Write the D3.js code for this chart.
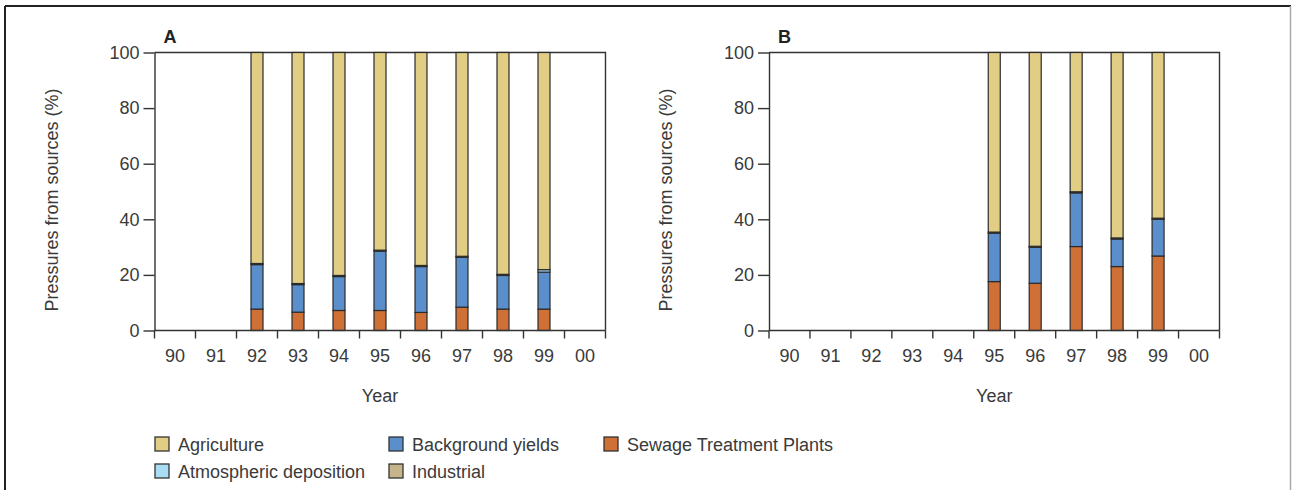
<!DOCTYPE html>
<html>
<head>
<meta charset="utf-8">
<script src="https://cdn.jsdelivr.net/npm/d3@7"></script>
<style>
  html, body { margin: 0; padding: 0; background: #fff; }
  svg { display: block; font-family: "Liberation Sans", Arial, Helvetica, sans-serif; }
  .axis text { fill: #3a3a3a; font-size: 18px; }
  .axis path, .axis line { stroke: #333; stroke-width: 1.4; }
</style>
</head>
<body>
<svg id="chart" width="1292" height="490"></svg>
<script>
// Years shown on both x axes
const years = ["90", "91", "92", "93", "94", "95", "96", "97", "98", "99", "00"];
const yTicks = [0, 20, 40, 60, 80, 100];

// Source categories (stacking order, bottom to top) and their colours
const sources = ["Sewage Treatment Plants", "Background yields", "Atmospheric deposition", "Industrial", "Agriculture"];
const colors = ["#cf7036", "#5b8fcb", "#a9ddf4", "#c6b48b", "#e1cd83"];

// Panel A: share of pressure by source (%), years 92–99
const yearsA = ["92", "93", "94", "95", "96", "97", "98", "99"];
const stpA = [7.7, 6.6, 7.2, 7.2, 6.5, 8.4, 7.7, 7.7];
const backgroundA = [16.0, 9.9, 12.2, 21.3, 16.5, 17.9, 12.1, 13.3];
const atmosphericA = [0, 0, 0, 0, 0, 0, 0, 0.9];
const industrialA = [0.4, 0.4, 0.4, 0.4, 0.4, 0.4, 0.4, 0];
const agricultureA = [75.9, 83.1, 80.2, 71.1, 76.6, 73.3, 79.8, 78.1];

// Panel B: share of pressure by source (%), years 95–99
const yearsB = ["95", "96", "97", "98", "99"];
const stpB = [17.6, 17.0, 30.2, 23.0, 26.8];
const backgroundB = [17.4, 12.9, 19.3, 9.9, 13.2];
const atmosphericB = [0, 0, 0, 0, 0];
const industrialB = [0.4, 0.4, 0.4, 0.4, 0.4];
const agricultureB = [64.6, 69.7, 50.1, 66.7, 59.6];

function rows(ys, stp, bg, atm, ind, agr) {
  return ys.map((yr, i) => ({
    year: yr,
    "Sewage Treatment Plants": stp[i],
    "Background yields": bg[i],
    "Atmospheric deposition": atm[i],
    "Industrial": ind[i],
    "Agriculture": agr[i]
  }));
}

const panels = [
  { label: "A", left: 154.5, right: 605.5, data: rows(yearsA, stpA, backgroundA, atmosphericA, industrialA, agricultureA) },
  { label: "B", left: 769, right: 1219.5, data: rows(yearsB, stpB, backgroundB, atmosphericB, industrialB, agricultureB) }
];
const plotTop = 52.5, plotBottom = 330.5;

const svg = d3.select("#chart");
const color = d3.scaleOrdinal().domain(sources).range(colors);

// outer frame
svg.append("line").attr("x1", 5).attr("x2", 1291).attr("y1", 6).attr("y2", 6).attr("stroke", "#222").attr("stroke-width", 2);
svg.append("line").attr("x1", 5).attr("x2", 5).attr("y1", 6).attr("y2", 490).attr("stroke", "#222").attr("stroke-width", 2);
svg.append("line").attr("x1", 1290.5).attr("x2", 1290.5).attr("y1", 6).attr("y2", 490).attr("stroke", "#aaa").attr("stroke-width", 1.5);

const y = d3.scaleLinear().domain([0, 100]).range([plotBottom, plotTop]);
const stack = d3.stack().keys(sources);

panels.forEach(p => {
  const g = svg.append("g");
  const x = d3.scaleBand().domain(years).range([p.left, p.right]).padding(0);
  const barW = 12;

  // plot box (top and right sides)
  g.append("path")
    .attr("d", `M${p.left},${plotTop}H${p.right}V${plotBottom}`)
    .attr("fill", "none").attr("stroke", "#333").attr("stroke-width", 1.4);

  // stacked bars
  const series = stack(p.data);
  g.selectAll("g.series").data(series).join("g")
    .attr("class", "series")
    .attr("fill", d => color(d.key))
    .selectAll("rect").data(d => d.filter(v => v[1] - v[0] > 0)).join("rect")
    .attr("x", d => x(d.data.year) + (x.bandwidth() - barW) / 2)
    .attr("width", barW)
    .attr("y", d => y(d[1]))
    .attr("height", d => y(d[0]) - y(d[1]))
    .attr("stroke", "#2b2b2b").attr("stroke-width", 1.2);

  // y axis
  g.append("g").attr("class", "axis")
    .attr("transform", `translate(${p.left},0)`)
    .call(d3.axisLeft(y).tickValues(yTicks).tickSize(11).tickPadding(4).tickSizeOuter(0));

  // x axis: labels centred on each year, ticks on the year boundaries
  const xa = g.append("g").attr("class", "axis")
    .attr("transform", `translate(0,${plotBottom})`)
    .call(d3.axisBottom(x).tickSize(0).tickPadding(19).tickSizeOuter(0));
  xa.select(".domain").attr("d", `M${p.left},0H${p.right}`);
  const edges = years.map(d => x(d)).concat([x(years[years.length - 1]) + x.bandwidth()]);
  xa.selectAll("line.edge").data(edges).join("line")
    .attr("class", "edge")
    .attr("x1", d => d).attr("x2", d => d)
    .attr("y1", 0).attr("y2", 8)
    .attr("stroke", "#333").attr("stroke-width", 1.4);

  // panel letter
  g.append("text").attr("x", p.left + 9).attr("y", 43)
    .attr("font-size", 18).attr("font-weight", "bold").attr("fill", "#222")
    .text(p.label);

  // axis titles
  g.append("text").attr("x", (p.left + p.right) / 2).attr("y", 402)
    .attr("text-anchor", "middle").attr("font-size", 18).attr("fill", "#3a3a3a")
    .text("Year");
  g.append("text")
    .attr("transform", `translate(${p.left - 97},200) rotate(-90)`)
    .attr("text-anchor", "middle").attr("font-size", 18).attr("fill", "#3a3a3a")
    .text("Pressures from sources (%)");
});

// legend
const legendItems = [
  { key: "Agriculture", x: 155, y: 444 },
  { key: "Background yields", x: 389, y: 444 },
  { key: "Sewage Treatment Plants", x: 604, y: 444 },
  { key: "Atmospheric deposition", x: 155, y: 471 },
  { key: "Industrial", x: 389, y: 471 }
];
const lg = svg.append("g").selectAll("g").data(legendItems).join("g")
  .attr("transform", d => `translate(${d.x},${d.y})`);
lg.append("rect").attr("x", 0).attr("y", -7).attr("width", 14).attr("height", 14)
  .attr("fill", d => color(d.key)).attr("stroke", "#333").attr("stroke-width", 1.3);
lg.append("text").attr("x", 23).attr("y", 6.5)
  .attr("font-size", 18).attr("fill", "#3a3a3a")
  .text(d => d.key);
</script>
</body>
</html>
